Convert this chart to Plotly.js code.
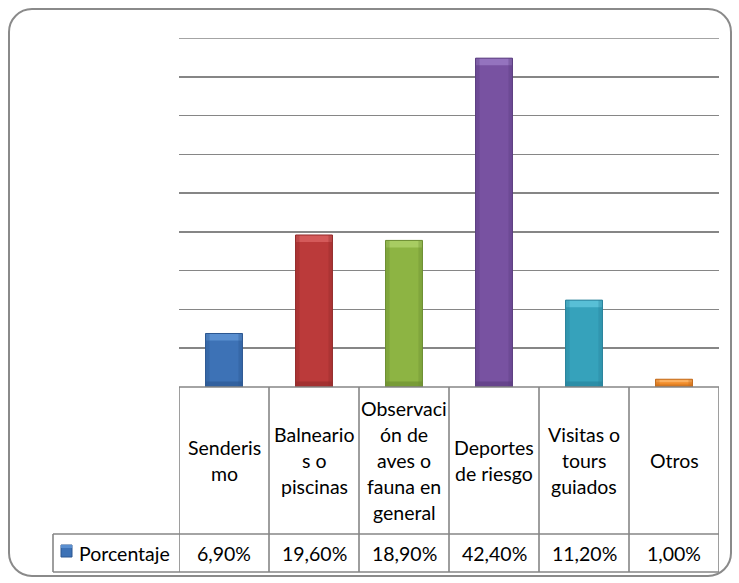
<!DOCTYPE html>
<html>
<head>
<meta charset="utf-8">
<script src="https://cdn.plot.ly/plotly-3.0.1.min.js"></script>
<style>
html,body{margin:0;padding:0;background:#fff;}
#wrap{position:relative;width:739px;height:583px;}
#chart{position:absolute;left:0;top:0;width:739px;height:583px;}
#frame{position:absolute;left:8px;top:8px;width:720px;height:565px;border:2px solid #8a8a8a;border-radius:24px;pointer-events:none;}
</style>
</head>
<body>
<div id="wrap"><div id="chart"></div><div id="frame"></div></div>
<script>
// ---- data ----
const categories = ["Senderismo", "Balnearios o piscinas", "Observación de aves o fauna en general", "Deportes de riesgo", "Visitas o tours guiados", "Otros"];
const headerLabels = ["Senderis\nmo", "Balneario\ns o\npiscinas", "Observaci\nón de\naves o\nfauna en\ngeneral", "Deportes\nde riesgo", "Visitas o\ntours\nguiados", "Otros"];
const values = [6.9, 19.6, 18.9, 42.4, 11.2, 1.0];
const valueLabels = ["6,90%", "19,60%", "18,90%", "42,40%", "11,20%", "1,00%"];
const seriesName = "Porcentaje";
const yMax = 45, yStep = 5;
const barColors = ["#3d72b6", "#bb3a3a", "#8db443", "#7852a1", "#36a2bb", "#f18d2b"];
const barLights = ["#5a8fd0", "#d45a5a", "#a8cc62", "#9473be", "#58bfd6", "#fbb060"];
const barDarks  = ["#2c5790", "#922b2b", "#6b8c30", "#5a3c7e", "#27809a", "#c26a1c"];

// ---- geometry (pixels) ----
const PL = 179, PR = 719, PT = 38, PB = 387;
const W = PR - PL, H = PB - PT;
const px = p => (p - PL) / W;
const py = p => (PB - p) / H;
const rowSplit = 534, tableBottom = 572, legendLeft = 53;
const gray = "#868686";
const font = "Lato, 'Open Sans', sans-serif";
const fs = 19.5;
const barW = 0.41;

const shapes = [];
const annotations = [];
function line(x0, y0, x1, y1, xref) {
  shapes.push({type: "line", xref: xref, yref: "paper", x0: x0, y0: y0, x1: x1, y1: y1,
    line: {color: gray, width: 1.6}, layer: "above"});
}
// top gridline at the range end
shapes.push({type: "line", xref: "paper", yref: "y", x0: 0, x1: 1, y0: yMax, y1: yMax,
  line: {color: gray, width: 1.5}, layer: "below"});
// bevel highlights on bars (light top band, dark bottom band)
const unitPx = H / yMax;
values.forEach((v, i) => {
  const hpx = v * unitPx;
  const b = Math.min(7, hpx / 2.5);
  const bu = b / unitPx;
  const sideU = 4 / (W / categories.length);
  shapes.push({type: "rect", xref: "x", yref: "y", x0: i - barW / 2, x1: i + barW / 2, y0: v - bu, y1: v,
    fillcolor: barLights[i], line: {width: 0}, layer: "above"});
  shapes.push({type: "rect", xref: "x", yref: "y", x0: i - barW / 2, x1: i + barW / 2, y0: 0, y1: bu * 0.8,
    fillcolor: barDarks[i], line: {width: 0}, layer: "above", opacity: 0.6});
  shapes.push({type: "rect", xref: "x", yref: "y", x0: i - barW / 2, x1: i - barW / 2 + sideU, y0: 0, y1: v,
    fillcolor: barDarks[i], line: {width: 0}, layer: "above", opacity: 0.35});
  shapes.push({type: "rect", xref: "x", yref: "y", x0: i + barW / 2 - sideU, x1: i + barW / 2, y0: 0, y1: v,
    fillcolor: barDarks[i], line: {width: 0}, layer: "above", opacity: 0.35});
  shapes.push({type: "rect", xref: "x", yref: "y", x0: i - barW / 2, x1: i + barW / 2, y0: 0, y1: v,
    fillcolor: "rgba(0,0,0,0)", line: {color: barDarks[i], width: 1}, layer: "above"});
});
// horizontal table lines
line(0, py(PB), 1, py(PB), "paper");
line(px(legendLeft), py(rowSplit), 1, py(rowSplit), "paper");
line(px(legendLeft), py(tableBottom), 1, py(tableBottom), "paper");
line(px(legendLeft), py(rowSplit), px(legendLeft), py(tableBottom), "paper");
// vertical table lines at category boundaries
for (let i = 0; i <= categories.length; i++) {
  line(i - 0.5, py(PB), i - 0.5, py(tableBottom), "x");
}
// header labels (one annotation per line for exact spacing)
const lineGap = 26, headerMid = (PB + rowSplit) / 2;
categories.forEach((c, i) => {
  const parts = headerLabels[i].split("\n");
  parts.forEach((t, k) => {
    const yc = headerMid + (k - (parts.length - 1) / 2) * lineGap;
    annotations.push({xref: "x", yref: "paper", x: i, y: py(yc), text: t, showarrow: false,
      xanchor: "center", yanchor: "middle", font: {family: font, size: fs, color: "#000"}});
  });
  annotations.push({xref: "x", yref: "paper", x: i, y: py((rowSplit + tableBottom) / 2), text: valueLabels[i],
    showarrow: false, xanchor: "center", yanchor: "middle", font: {family: font, size: fs, color: "#000"}});
});
// legend key + series name
shapes.push({type: "rect", xref: "paper", yref: "paper", x0: px(61), x1: px(72), y0: py(545), y1: py(557),
  fillcolor: barColors[0], line: {color: barDarks[0], width: 1}, layer: "above"});
shapes.push({type: "rect", xref: "paper", yref: "paper", x0: px(61), x1: px(72), y0: py(548), y1: py(545),
  fillcolor: barLights[0], line: {width: 0}, layer: "above"});
annotations.push({xref: "paper", yref: "paper", x: px(77), y: py((rowSplit + tableBottom) / 2), text: seriesName,
  showarrow: false, xanchor: "left", yanchor: "middle", font: {family: font, size: fs, color: "#000"}});

const trace = {
  type: "bar",
  x: categories,
  y: values,
  width: barW,
  marker: {color: barColors, line: {width: 0}},
  hoverinfo: "none"
};

const layout = {
  width: 739, height: 583,
  margin: {l: PL, r: 739 - PR, t: PT, b: 583 - PB, pad: 0},
  paper_bgcolor: "#ffffff", plot_bgcolor: "#ffffff",
  showlegend: false,
  xaxis: {type: "category", showticklabels: false, ticks: "", showgrid: false, zeroline: false,
    showline: false, range: [-0.5, categories.length - 0.5], fixedrange: true},
  yaxis: {range: [0, yMax], dtick: yStep, tick0: 0, showticklabels: false, ticks: "", showgrid: true,
    gridcolor: gray, gridwidth: 1.5, zeroline: false, showline: false, fixedrange: true},
  shapes: shapes,
  annotations: annotations
};

Plotly.newPlot("chart", [trace], layout, {staticPlot: true, displayModeBar: false});
</script>
</body>
</html>
